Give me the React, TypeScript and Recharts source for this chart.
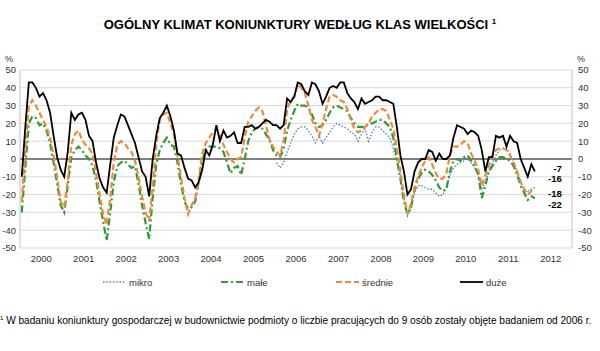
import React from "react";
import {
  LineChart,
  Line,
  XAxis,
  YAxis,
  CartesianGrid,
  ReferenceLine,
} from "recharts";

// Monthly values, Jan 2000 onwards
const duze = [
  -10, 18, 43, 43, 40, 35, 37, 33, 26, 13, 1, -6,
  -10, 4, 26, 22, 25, 26, 22, 13, 10, -2, -11, -16,
  -19, -3, 12, 19, 25, 24, 19, 14, 9, 1, -7, -10,
  -21, 0, 13, 23, 26, 30, 24, 16, 3, 2, -5, -11,
  -12, -16, -13, -6, 5, 2, 8, 19, 10, 16, 12, 13,
  15, 9, 9, 18, 18, 19, 17, 18, 20, 22, 21, 19,
  19, 17, 19, 34, 32, 35, 43, 42, 38, 36, 43, 42,
  38, 31, 35, 40, 41, 40, 43, 43, 37, 34, 32, 28,
  34, 31, 32, 33, 35, 35, 33, 33, 32, 31, 18, 2,
  -7, -20, -17, -7, -2, 0, 0, 5, 4, -1, 3, 0,
  0, 2, 12, 19, 18, 17, 14, 16, 15, 13, 5, -7,
  1, 1, 13, 12, 13, 7, 13, 10, 9, 0, -5, -10,
  -3, -7,
];

const srednie = [
  -24, 5, 30, 33, 30, 26, 22, 18, 12, 2, -10, -24,
  -27, -12, 8, 14, 16, 11, 8, 6, 3, -8, -20, -31,
  -37, -22, -2, 8, 10, 9, 6, 4, -1, -10, -21, -30,
  -35, -15, 8, 22, 25, 26, 20, 14, 2, -10, -22, -31,
  -26, -22, -12, 3, 9, 12, 15, 17, 13, 8, 4, 0,
  -2, 0, 1, 12, 21, 24, 27, 29, 27, 19, 11, 7,
  4, 2, 10, 28, 33, 35, 42, 40, 37, 30, 22, 18,
  13, 20, 28, 35, 36, 35, 33, 32, 28, 22, 17, 15,
  16, 18, 20, 24, 26, 28, 28, 27, 22, 17, 6, -7,
  -20, -31, -25, -16, -10, -5, -1, 1, -3, -8, -11, -11,
  -8, 2, 7, 7, 8, 10, 9, 3, -1, -6, -15, -9,
  -4, 2, 5, 6, 6, 5, 2, -2, -7, -13, -17, -20,
  -18, -18,
];

const male = [
  -30, -5, 20, 24, 23, 19, 20, 16, 9, -2, -14, -26,
  -30, -15, 1, 5, 7, 5, 2, 0, -4, -12, -24, -35,
  -46, -30, -13, -4, -2, -1, -3, -5, -4, -14, -26, -36,
  -45, -22, -3, 5, 9, 12, 8, 7, -2, -14, -24, -28,
  -27, -24, -13, -1, 5, 7, 7, 7, 6, 4, -2, -8,
  -5, -4, -9, 0, 10, 15, 17, 18, 17, 14, 11, 5,
  2, 1, 6, 16, 22, 27, 31, 30, 30, 29, 25, 20,
  18, 19, 22, 26, 29, 30, 29, 28, 27, 23, 20, 18,
  18, 18, 20, 20, 21, 22, 22, 20, 18, 12, 0, -11,
  -24, -31, -27, -17, -11, -8, -6, -7, -9, -12, -16, -18,
  -17, -7, -1, 0, -1, 1, 2, -1, -4, -9, -22, -15,
  -7, -4, -1, 1, 1, 0, -1, -4, -9, -15, -19, -23,
  -21, -22,
];

// Micro firms surveyed from Jan 2006 onwards
const MIKRO_START = 72;
const mikro = [
  -2, -5, -2, 4, 9, 14, 17, 18, 18, 16, 13, 9,
  13, 9, 12, 15, 18, 20, 19, 18, 17, 15, 14, 10,
  14, 17, 10, 15, 18, 18, 16, 14, 12, 6, -1, -10,
  -22, -32, -28, -19, -15, -15, -16, -17, -17, -19, -21, -20,
  -16, -9, -5, -3, -2, -1, 0, -2, -5, -9, -17, -13,
  -7, -2, 2, 5, 6, 6, 3, -2, -7, -13, -17, -18,
  -17, -16,
];

const years = [2000, 2001, 2002, 2003, 2004, 2005, 2006, 2007, 2008, 2009, 2010, 2011, 2012];
const yTicks = [-50, -40, -30, -20, -10, 0, 10, 20, 30, 40, 50];

const TOTAL_MONTHS = years.length * 12;

const data = Array.from({ length: TOTAL_MONTHS }, (_, i) => ({
  x: i + 0.5,
  duze: i < duze.length ? duze[i] : null,
  srednie: i < srednie.length ? srednie[i] : null,
  male: i < male.length ? male[i] : null,
  mikro:
    i >= MIKRO_START && i - MIKRO_START < mikro.length ? mikro[i - MIKRO_START] : null,
}));

const xTicks = years.map((_, k) => k * 12 + 6);

const FONT = "'Liberation Sans', Arial, sans-serif";

const endLabel = (lastIndex: number, dy: number) => (props: any) => {
  if (props.index !== lastIndex || props.value == null) return null;
  return (
    <text
      x={props.x + 27}
      y={props.y + dy}
      textAnchor="end"
      fontSize={9.5}
      fontWeight="bold"
      fontFamily={FONT}
      fill="#000"
    >
      {props.value}
    </text>
  );
};

const legendItems = [
  { name: "mikro", color: "#4a7ebb", dash: "1.5 1.8", width: 1.3, x: 103 },
  { name: "małe", color: "#2e9b35", dash: "7 3 2 3", width: 2.2, x: 221 },
  { name: "średnie", color: "#ee8a3c", dash: "6 3", width: 2.2, x: 336 },
  { name: "duże", color: "#000000", dash: undefined, width: 1.8, x: 460 },
];

const LegendBox = () => (
  <svg width={600} height={16} style={{ display: "block" }}>
    {legendItems.map((it) => (
      <g key={it.name}>
        <line
          x1={it.x}
          x2={it.x + 23}
          y1={8}
          y2={8}
          stroke={it.color}
          strokeWidth={it.width}
          strokeDasharray={it.dash}
        />
        <text x={it.x + 26} y={11.5} fontSize={9.5} fontFamily={FONT} fill="#333">
          {it.name}
        </text>
      </g>
    ))}
  </svg>
);

const tickStyle = { fontSize: 9.5, fill: "#333", fontFamily: FONT };

export default function App() {
  const last = duze.length - 1;
  return (
    <div
      style={{
        position: "absolute",
        left: 0,
        top: 0,
        width: 600,
        height: 351,
        background: "#fff",
        fontFamily: FONT,
      }}
    >
      <div
        style={{
          position: "absolute",
          top: 17,
          left: 0,
          width: 600,
          textAlign: "center",
          fontWeight: "bold",
          fontSize: 13,
          color: "#000",
          whiteSpace: "nowrap",
        }}
      >
        OGÓLNY KLIMAT KONIUNKTURY WEDŁUG KLAS WIELKOŚCI{" "}
        <sup style={{ fontSize: 8 }}>1</sup>
      </div>
      <div style={{ position: "absolute", top: 54, left: 5, fontSize: 9, color: "#333" }}>%</div>
      <div style={{ position: "absolute", top: 54, left: 577, fontSize: 9, color: "#333" }}>%</div>

      <div style={{ position: "absolute", left: 0, top: 0 }}>
        <LineChart
          width={600}
          height={351}
          data={data}
          margin={{ top: 70, right: 0, left: 0, bottom: 83 }}
        >
          <CartesianGrid yAxisId="l" vertical={false} stroke="#d9d9d9" />
          <XAxis
            dataKey="x"
            type="number"
            domain={[0, TOTAL_MONTHS]}
            ticks={xTicks}
            interval={0}
            tickFormatter={(v: number) => String(years[Math.round((v - 6) / 12)])}
            tickLine={false}
            axisLine={false}
            tickSize={0}
            tickMargin={7}
            height={20}
            tick={tickStyle}
          />
          <YAxis
            yAxisId="l"
            orientation="left"
            type="number"
            domain={[-50, 50]}
            ticks={yTicks}
            interval={0}
            width={20}
            tickLine={false}
            tickSize={0}
            tickMargin={4}
            axisLine={{ stroke: "#bfbfbf" }}
            tick={tickStyle}
          />
          <YAxis
            yAxisId="r"
            orientation="right"
            type="number"
            domain={[-50, 50]}
            ticks={yTicks}
            interval={0}
            width={28}
            tickLine={false}
            tickSize={0}
            tickMargin={6}
            axisLine={{ stroke: "#bfbfbf" }}
            tick={tickStyle}
          />
          <ReferenceLine yAxisId="l" y={0} stroke="#808080" strokeWidth={2} />
          <Line
            yAxisId="r"
            type="linear"
            dataKey="duze"
            stroke="none"
            strokeWidth={0}
            dot={false}
            activeDot={false}
            isAnimationActive={false}
            legendType="none"
          />
          <Line
            yAxisId="l"
            type="linear"
            dataKey="mikro"
            stroke="#4a7ebb"
            strokeWidth={1.3}
            strokeDasharray="1.5 1.8"
            dot={false}
            isAnimationActive={false}
            label={endLabel(last, -5)}
          />
          <Line
            yAxisId="l"
            type="linear"
            dataKey="male"
            stroke="#2e9b35"
            strokeWidth={2.2}
            strokeDasharray="7 3 2 3"
            dot={false}
            isAnimationActive={false}
            label={endLabel(last, 10)}
          />
          <Line
            yAxisId="l"
            type="linear"
            dataKey="srednie"
            stroke="#ee8a3c"
            strokeWidth={2.2}
            strokeDasharray="6 3"
            dot={false}
            isAnimationActive={false}
            label={endLabel(last, 5.5)}
          />
          <Line
            yAxisId="l"
            type="linear"
            dataKey="duze"
            stroke="#000000"
            strokeWidth={1.8}
            dot={false}
            isAnimationActive={false}
            label={endLabel(last, 1)}
          />
        </LineChart>
      </div>

      <div style={{ position: "absolute", top: 274, left: 0 }}>
        <LegendBox />
      </div>

      <div
        style={{
          position: "absolute",
          top: 315,
          left: 0,
          width: 600,
          fontSize: 10.1,
          color: "#000",
          whiteSpace: "nowrap",
        }}
      >
        <sup style={{ fontSize: 6 }}>1</sup> W badaniu koniunktury gospodarczej w budownictwie
        podmioty o liczbie pracujących do 9 osób zostały objęte badaniem od 2006 r.
      </div>
    </div>
  );
}
